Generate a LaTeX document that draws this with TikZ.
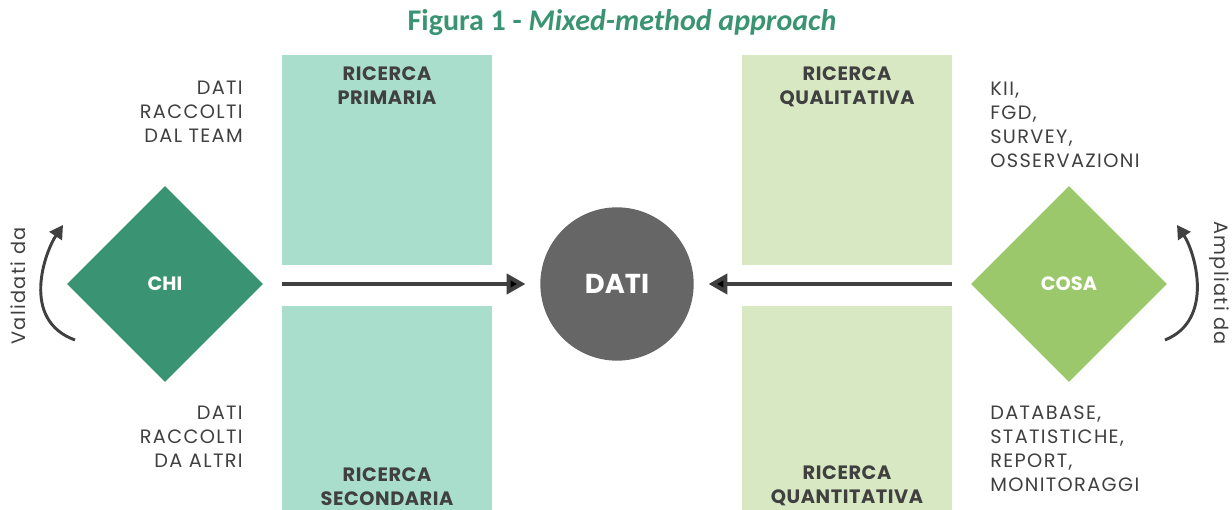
\documentclass[tikz,border=0pt]{standalone}
\usepackage{fontspec}
\setmainfont{Poppins}
\newfontfamily\titlefont{Carlito}
\newfontfamily\sidefont{Poppins}[LetterSpace=7]
\newfontfamily\labfont{Poppins}[LetterSpace=3]
\usepackage{tikz}
\usetikzlibrary{arrows.meta,positioning,shapes.geometric}

\definecolor{teal1}{HTML}{A8DECB}
\definecolor{lime1}{HTML}{D7E8C3}
\definecolor{chigreen}{HTML}{3A9473}
\definecolor{cosagreen}{HTML}{9BC86A}
\definecolor{datigray}{HTML}{666666}
\definecolor{ink}{HTML}{404040}

\begin{document}
\begin{tikzpicture}[x=0.75pt,y=0.75pt,
  box/.style={minimum width=157.5pt,inner sep=0pt},
  boxlabel/.style={align=center,inner sep=0pt,text=ink,font=\labfont\bfseries\fontsize{14.5}{18}\selectfont},
  sidetext/.style={inner sep=0pt,text=ink,font=\sidefont\fontsize{14.5}{18}\selectfont},
  rombo/.style={diamond,aspect=1,minimum width=147pt,minimum height=147pt,inner sep=0pt,
    text=white,font=\bfseries\fontsize{14.5}{16}\selectfont},
  flow/.style={draw=ink,line width=3pt,-{Triangle[length=14pt,width=15pt]}},
  turn/.style={draw=ink,line width=2.2pt,-{Triangle[length=10pt,width=11pt]}}]
  \useasboundingbox (0,0) rectangle (1232,510);

  \node (title) at (622,487) {\titlefont\bfseries\color{chigreen}\fontsize{22.5}{26}\selectfont
    Figura 1 - \textit{Mixed-method approach}};

  % boxes
  \node (prim) [box,minimum height=157.5pt,fill=teal1] at (387,350) {};
  \node (sec) [box,minimum height=153pt,fill=teal1] at (387,102) {};
  \node (qual) [box,minimum height=157.5pt,fill=lime1] at (847,350) {};
  \node (quant) [box,minimum height=153pt,fill=lime1] at (847,102) {};
  \node (primlab) [boxlabel,below=8.5pt of prim.north] {RICERCA\\PRIMARIA};
  \node (seclab) [boxlabel,above=3pt of sec.south] {RICERCA\\SECONDARIA};
  \node (quallab) [boxlabel,below=8.5pt of qual.north] {RICERCA\\QUALITATIVA};
  \node (quantlab) [boxlabel,above=3pt of quant.south] {RICERCA\\QUANTITATIVA};

  % side texts
  \node (team) [sidetext,align=right,anchor=east] at (243,398) {DATI\\RACCOLTI\\DAL TEAM};
  \node (altri) [sidetext,align=right,anchor=east] at (243,73) {DATI\\RACCOLTI\\DA ALTRI};
  \node (fonti) [sidetext,align=left,anchor=west] at (990,385) {KII,\\FGD,\\SURVEY,\\OSSERVAZIONI};
  \node (basi) [sidetext,align=left,anchor=west] at (990,61) {DATABASE,\\STATISTICHE,\\REPORT,\\MONITORAGGI};

  % centre
  \node (chi) [rombo,fill=chigreen] at (165,226) {CHI};
  \node (cosa) [rombo,fill=cosagreen] at (1069,226) {COSA};
  \node (dati) [circle,fill=datigray,minimum size=115pt,inner sep=0pt,text=white,
    font=\bfseries\fontsize{20.5}{24}\selectfont] at (617,226) {DATI};

  \path[flow]
    (chi) edge[shorten <=14pt,shorten >=11pt] (dati)
    (cosa) edge[shorten <=14pt,shorten >=11pt] (dati);

  % side arrows
  \coordinate (vstart) at (75,170);
  \coordinate (vend) at (63,285);
  \coordinate (astart) at (1165,170);
  \coordinate (aend) at (1177,285);
  \draw[turn] (vstart) .. controls (20,190) and (45,258) .. (vend);
  \draw[turn] (astart) .. controls (1215,190) and (1195,258) .. (aend);
  \node (valid) [sidetext,rotate=90] at (18.5,224) {Validati da};
  \node (ampl) [sidetext,rotate=-90] at (1219,227) {Ampliati da};
\end{tikzpicture}
\end{document}
